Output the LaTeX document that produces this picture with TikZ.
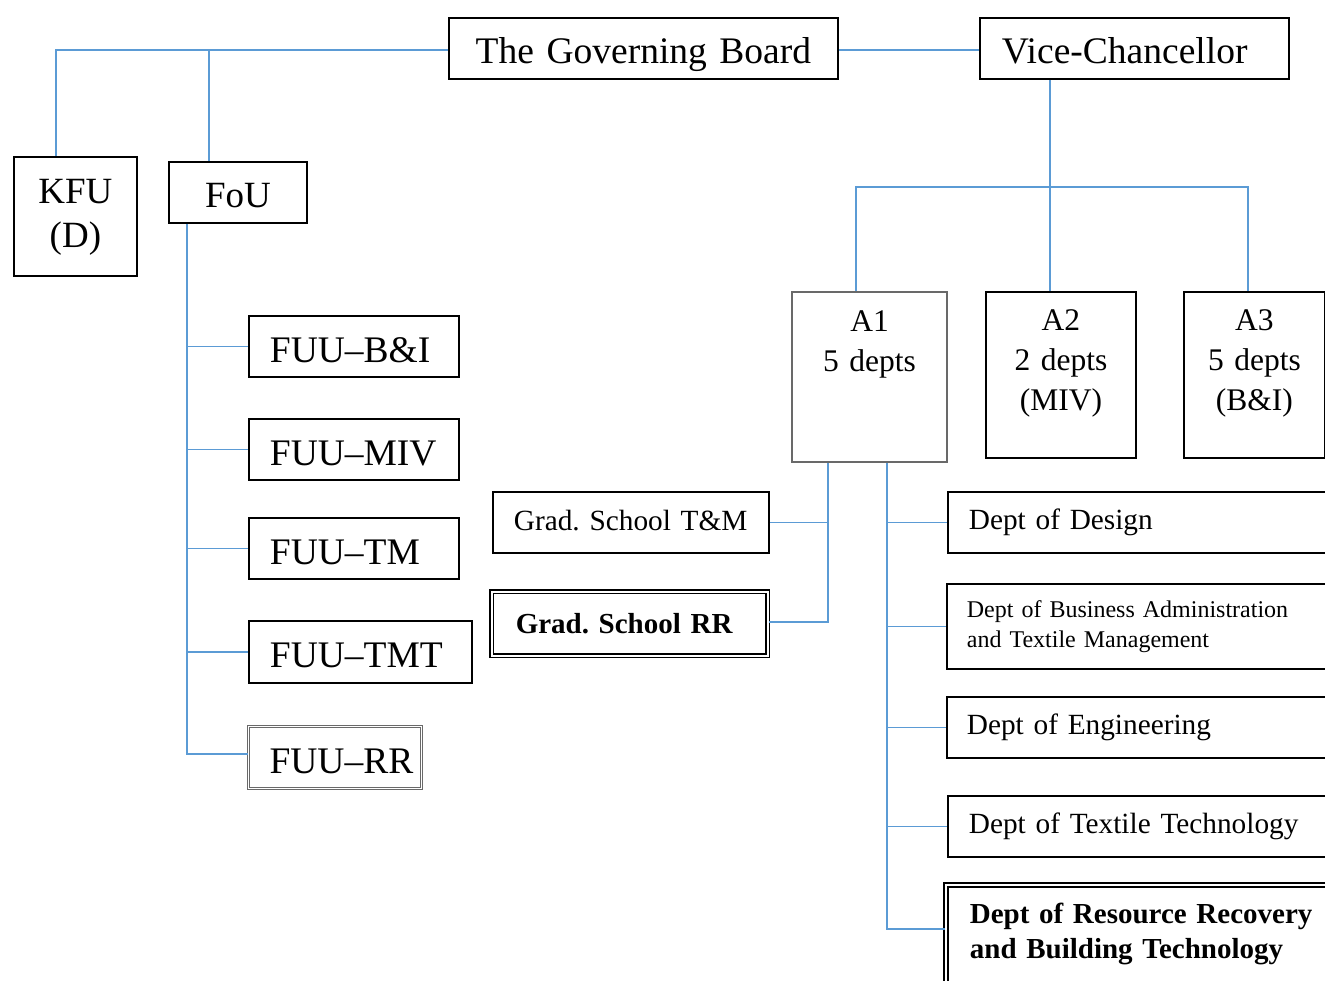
\documentclass[tikz,border=0pt]{standalone}
\usepackage{fontspec}
\setmainfont{Liberation Serif}
\frenchspacing
\definecolor{connc}{RGB}{91,155,213}
\definecolor{agray}{RGB}{105,105,105}
\tikzset{
  box/.style={draw=black, line width=1.8pt, anchor=north west, inner ysep=0pt, fill=white},
  boxL/.style n args={4}{text width=#1, inner xsep=#2, text height=#3, text depth=#4, align=left},
  boxC/.style n args={3}{text width=#1, inner xsep=0pt, text height=#2, text depth=#3, align=center},
  graybox/.style={draw=agray, line width=2.2pt},
  dblblack/.style={draw=black, double=white, line width=1.5pt, double distance=1.8pt},
  dblgray/.style={draw=agray, double=white, line width=1pt, double distance=1.6pt},
  conn/.style={draw=connc, line width=1.3pt},
  fbig/.style={font=\fontsize{37.5}{45}\selectfont},
  fkfu/.style={font=\fontsize{37}{44}\selectfont},
  fuu/.style={font=\fontsize{37.5}{45}\selectfont},
  fmid/.style={font=\fontsize{29.3}{35}\selectfont},
  fbold/.style={font=\fontsize{29}{35}\selectfont\bfseries},
  fa/.style={font=\fontsize{31.5}{40}\selectfont},
  fsmall/.style={font=\fontsize{24}{30}\selectfont}
}
\begin{document}
\begin{tikzpicture}[x=1pt,y=-1pt]
\useasboundingbox (0,0) rectangle (1325,981);
\clip (0,0) rectangle (1325,981);
\fill[white] (0,0) rectangle (1325,981);

% top level
\node[box, boxC={389pt}{46pt}{15pt}, fbig] (gb) at (448,17) {\mbox{The Governing Board}};
\node[box, boxL={265pt}{22pt}{46pt}{15pt}, fbig] (vc) at (979,17) {\mbox{Vice-Chancellor}};

% left side
\node[box, boxC={123pt}{47pt}{72pt}, fkfu] (kfu) at (13,156) {KFU\\(D)};
\node[box, boxC={138pt}{46pt}{15pt}, fkfu] (fou) at (168,161) {FoU};

\node[box, boxL={168pt}{21pt}{47pt}{14pt}, fuu] (fbi) at (248,315) {\mbox{FUU\textendash B\&I}};
\node[box, boxL={168pt}{21pt}{47pt}{14pt}, fuu] (fmiv) at (248,418) {\mbox{FUU\textendash MIV}};
\node[box, boxL={168pt}{21pt}{47pt}{14pt}, fuu] (ftm) at (248,517) {\mbox{FUU\textendash TM}};
\node[box, boxL={181pt}{21pt}{47pt}{15pt}, fuu] (ftmt) at (248,620) {\mbox{FUU\textendash TMT}};
\node[box, dblgray, boxL={131pt}{21pt}{47pt}{15pt}, fuu] (frr) at (248,726) {\mbox{FUU\textendash RR}};

% graduate schools
\node[box, boxL={234pt}{21pt}{39pt}{22pt}, fmid] (gtm) at (492,491) {\mbox{Grad. School T\&M}};
\node[box, dblblack, boxL={228pt}{24pt}{42pt}{22pt}, fbold] (grr) at (491,591) {\mbox{Grad. School RR}};

% A boxes
\node[box, graybox, boxC={155pt}{39pt}{131pt}, fa] (a1) at (791,291) {A1\\5 depts};
\node[box, boxC={150pt}{39pt}{127pt}, fa] (a2) at (985,291) {A2\\2 depts\\(MIV)};
\node[box, boxC={141pt}{39pt}{127pt}, fa] (a3) at (1183,291) {A3\\5 depts\\(B\&I)};

% departments
\node[box, boxL={356pt}{21pt}{38pt}{23pt}, fmid] (dd) at (947,491) {\mbox{Dept of Design}};
\node[box, boxL={359pt}{20pt}{34pt}{51pt}, fsmall] (dba) at (946,583) {\mbox{Dept of Business Administration}\\\mbox{and Textile Management}};
\node[box, boxL={359pt}{20pt}{38pt}{23pt}, fmid] (de) at (946,696) {\mbox{Dept of Engineering}};
\node[box, boxL={356pt}{21pt}{38pt}{23pt}, fmid] (dtt) at (947,795) {\mbox{Dept of Textile Technology}};
\node[box, dblblack, line width=1.8pt, boxL={352pt}{24pt}{39pt}{100pt}, fbold] (drr) at (945,884) {\mbox{Dept of Resource Recovery}\\\mbox{and Building Technology}};

% connectors: governing board
\coordinate (k) at (56,50);
\coordinate (f) at (209,50);
\draw[conn] (gb.west |- k) -- (k) -- (k |- kfu.north);
\draw[conn] (f) -- (f |- fou.north);
\draw[conn] (gb.east |- k) -- (vc.west |- k);

% vice-chancellor
\coordinate (v) at (1050,187);
\coordinate (b1) at (856,187);
\coordinate (b3) at (1248,187);
\draw[conn] (v |- vc.south) -- (v) -- (v |- a2.north);
\draw[conn] (b1 |- a1.north) -- (b1) -- (b3) -- (b3 |- a3.north);

% FoU trunk
\coordinate (ft) at (187,754);
\draw[conn] (ft |- fou.south) -- (ft) -- (frr.west |- ft);
\draw[conn] (ft |- fbi.west) -- (fbi.west);
\draw[conn] (ft |- fmiv.west) -- (fmiv.west);
\draw[conn] (ft |- ftm.west) -- (ftm.west);
\draw[conn] (ft |- ftmt.west) -- (ftmt.west);

% A1 left trunk
\coordinate (lt) at (828,622);
\draw[conn] (lt |- a1.south) -- (lt) -- (grr.east |- lt);
\draw[conn] (lt |- gtm.east) -- (gtm.east);

% A1 right trunk
\coordinate (rt) at (887,929);
\draw[conn] (rt |- a1.south) -- (rt) -- (drr.west |- rt);
\draw[conn] (rt |- dd.west) -- (dd.west);
\draw[conn] (rt |- dba.west) -- (dba.west);
\draw[conn] (rt |- de.west) -- (de.west);
\draw[conn] (rt |- dtt.west) -- (dtt.west);
\end{tikzpicture}
\end{document}
